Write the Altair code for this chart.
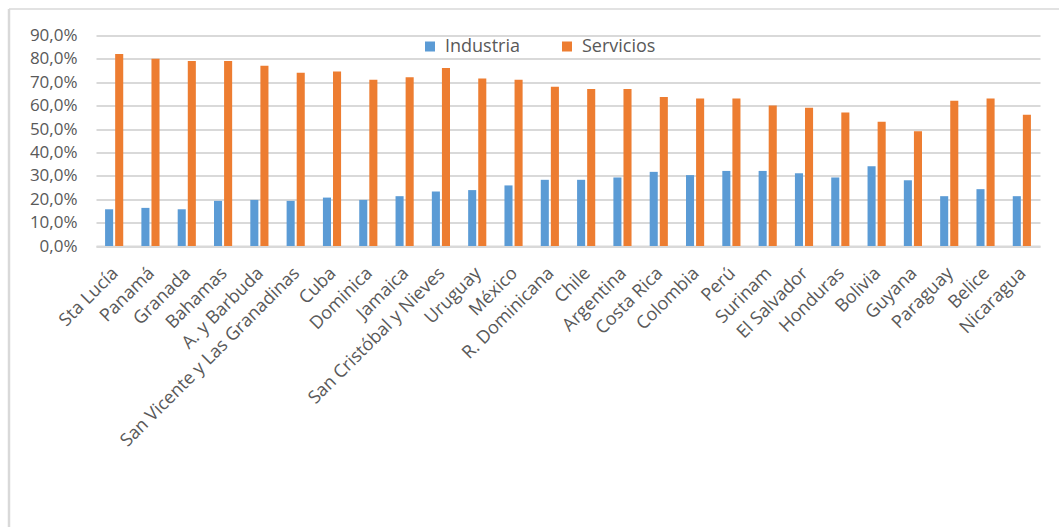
import altair as alt
import pandas as pd

# Participación de industria y servicios por país
paises = [
    "Sta Lucía", "Panamá", "Granada", "Bahamas", "A. y Barbuda",
    "San Vicente y Las Granadinas", "Cuba", "Dominica", "Jamaica",
    "San Cristóbal y Nieves", "Uruguay", "México", "R. Dominicana", "Chile",
    "Argentina", "Costa Rica", "Colombia", "Perú", "Surinam", "El Salvador",
    "Honduras", "Bolivia", "Guyana", "Paraguay", "Belice", "Nicaragua",
]
industria = [
    0.157, 0.163, 0.157, 0.193, 0.197, 0.193, 0.207, 0.197, 0.213, 0.233,
    0.239, 0.259, 0.283, 0.283, 0.293, 0.317, 0.303, 0.321, 0.321, 0.311,
    0.293, 0.341, 0.281, 0.213, 0.243, 0.213,
]
servicios = [
    0.821, 0.801, 0.791, 0.791, 0.771, 0.741, 0.746, 0.711, 0.721, 0.761,
    0.716, 0.711, 0.681, 0.671, 0.671, 0.637, 0.631, 0.631, 0.601, 0.591,
    0.571, 0.531, 0.491, 0.621, 0.631, 0.561,
]
series = ["Industria", "Servicios"]
colores = ["#5B9BD5", "#ED7D31"]
y_ticks = [0, 0.1, 0.2, 0.3, 0.4, 0.5, 0.6, 0.7, 0.8, 0.9]

rows = []
for p, i, s in zip(paises, industria, servicios):
    rows.append({"pais": p, "serie": "Industria", "valor": i})
    rows.append({"pais": p, "serie": "Servicios", "valor": s})
df = pd.DataFrame(rows)

FONT = "Open Sans"
GRAY_TXT = "#595959"
GRID = "#D9D9D9"

W, H = 944, 210.5
PAD_L, PAD_T = 96, 35.5

bars = alt.Chart(df).mark_bar().encode(
    x=alt.X(
        "pais:N",
        sort=paises,
        title=None,
        scale=alt.Scale(paddingInner=0.5, paddingOuter=0.25),
        axis=alt.Axis(
            labelAngle=-45,
            labelFont=FONT,
            labelFontSize=18,
            labelColor=GRAY_TXT,
            labelLimit=0,
            ticks=False,
            domainColor=GRID,
            domainWidth=2,
            labelPadding=18,
            labelOffset=-5,
            labelOverlap=False,
        ),
    ),
    xOffset=alt.XOffset("serie:N", sort=series, scale=alt.Scale(paddingInner=0.2)),
    y=alt.Y(
        "valor:Q",
        title=None,
        scale=alt.Scale(domain=[0, 0.9], nice=False),
        axis=alt.Axis(
            values=y_ticks,
            labelExpr="replace(format(datum.value, '.1%'), '.', ',')",
            labelFont=FONT,
            labelFontSize=17,
            labelColor=GRAY_TXT,
            labelPadding=19,
            ticks=False,
            domain=False,
            gridColor=GRID,
            gridWidth=2,
        ),
    ),
    color=alt.Color(
        "serie:N",
        sort=series,
        title=None,
        scale=alt.Scale(domain=series, range=colores),
        legend=alt.Legend(
            orient="none",
            legendX=325,
            legendY=2,
            direction="horizontal",
            symbolType="square",
            symbolSize=100,
            symbolStrokeWidth=0,
            labelFont=FONT,
            labelFontSize=18,
            labelColor=GRAY_TXT,
            labelOffset=6,
            columnPadding=37,
            padding=0,
        ),
    ),
)

# marco del área del gráfico
frame_top = alt.Chart().mark_rule(color=GRID, strokeWidth=1.5).encode(
    x=alt.value(9 - PAD_L), x2=alt.value(1059 - PAD_L), y=alt.value(9 - PAD_T)
)
frame_left = alt.Chart().mark_rule(color=GRID, strokeWidth=2.5).encode(
    x=alt.value(9 - PAD_L), y=alt.value(9 - PAD_T), y2=alt.value(527 - PAD_T)
)

chart = (
    alt.layer(bars, frame_top, frame_left)
    .properties(
        width=W,
        height=H,
        autosize=alt.AutoSizeParams(type="none"),
        padding={"left": PAD_L, "top": PAD_T, "right": 1059 - PAD_L - W, "bottom": 527 - PAD_T - H},
        background="white",
    )
    .configure_view(stroke=None)
)

chart.save("out.html", embed_options={"renderer": "svg", "actions": False})
